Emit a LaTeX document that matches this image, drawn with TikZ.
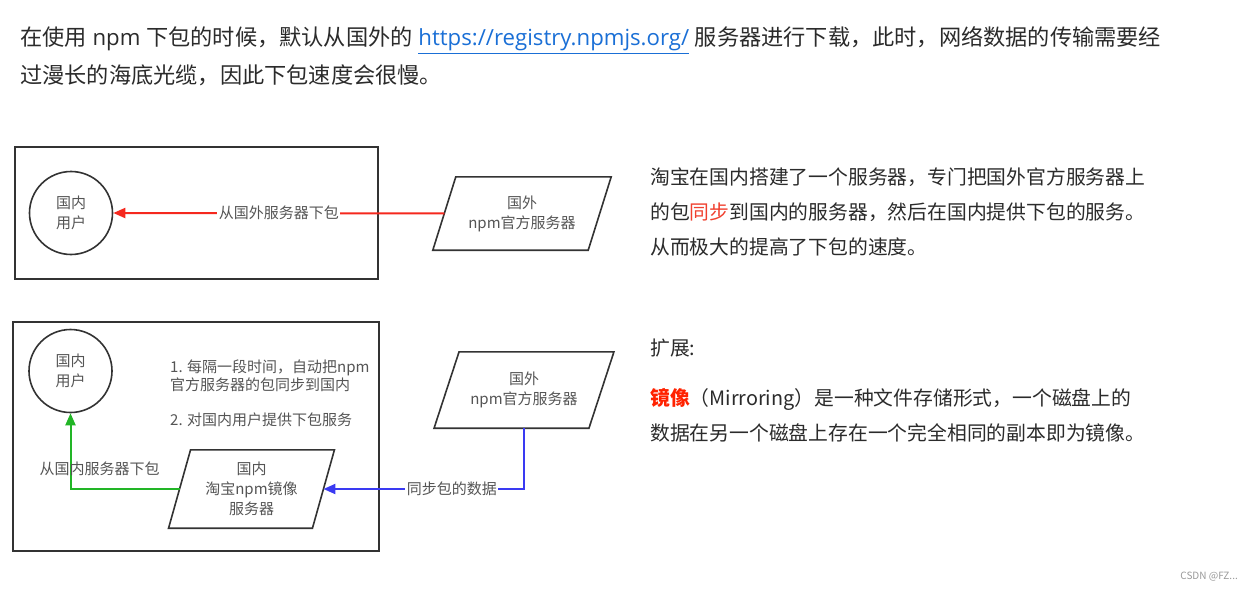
\documentclass[tikz,border=0pt]{standalone}
\usepackage{fontspec}
\setmainfont{Noto Sans CJK SC}
\newfontfamily\latfont{Open Sans}
\usetikzlibrary{arrows.meta,calc}
\definecolor{txt}{HTML}{2B2B2B}
\definecolor{dtext}{HTML}{555555}
\definecolor{frameC}{HTML}{333333}
\definecolor{link}{HTML}{1A6FD6}
\definecolor{redtxt}{HTML}{F0402E}
\definecolor{mirror}{HTML}{FF2200}
\definecolor{rflow}{HTML}{F5281E}
\definecolor{gflow}{HTML}{22B526}
\definecolor{bflow}{HTML}{3A3AF2}
\definecolor{mark}{HTML}{999999}
\newcommand\topfont{\fontsize{22.2}{26}\selectfont}
\newcommand\sidefont{\fontsize{19.8}{24}\selectfont}
\newcommand\diagfont{\fontsize{15}{20}\selectfont}
\newcommand\pgram[2]{\draw[pgline] ($(#1.south west)+(-#2,0)$) -- ($(#1.north west)+(#2,0)$) -- ($(#1.north east)+(#2,0)$) -- ($(#1.south east)+(-#2,0)$) -- cycle;}
\begin{document}
\begin{tikzpicture}[x=1pt,y=-1pt,
  frame/.style={draw=frameC, line width=2pt},
  user/.style={circle, draw=frameC, line width=1.6pt, minimum size=83pt, inner sep=0pt, align=center, font=\diagfont, text=dtext},
  pgbox/.style={inner sep=0pt, align=center, font=\diagfont, text=dtext},
  pgline/.style={draw=frameC, line width=1.6pt, line join=miter},
  flow/.style={line width=2pt, -{Triangle[length=12pt,width=10pt]}},
  lbl/.style={font=\diagfont, text=dtext, fill=white, inner sep=1.5pt},
  para/.style={anchor=base west, inner sep=0pt, text=txt},
]
\useasboundingbox (0,0) rectangle (1252,591);
\fill[white] (0,0) rectangle (1252,591);

% intro text
\node[para, font=\topfont] (intro1) at (20,46) {在使用{\latfont\ npm }下包的时候，默认从国外的{\latfont\ \textcolor{link}{\underline{https://registry.npmjs.org/}} }服务器进行下载，此时，网络数据的传输需要经};
\node[para, font=\topfont] (intro2) at (20,84) {过漫长的海底光缆，因此下包速度会很慢。};

% first diagram
\draw[frame] (15,147) rectangle (378,279);
\node[user] (u1) at (71,213) {国内\\用户};
\node[pgbox, minimum width=155pt, minimum height=73pt] (p1) at (522,213.5) {国外\\npm官方服务器};
\pgram{p1}{11.5}
\draw[flow, rflow] (p1.west) -- node[lbl]{从国外服务器下包} (u1.east);

% second diagram
\draw[frame] (13,322) rectangle (379,551);
\node[user] (u2) at (70.5,371) {国内\\用户};
\node[para, font=\diagfont, text=dtext] (s1) at (170,372.6) {1. 每隔一段时间，自动把npm};
\node[para, font=\diagfont, text=dtext] (s2) at (170,390.6) {官方服务器的包同步到国内};
\node[para, font=\diagfont, text=dtext] (s3) at (170,425.6) {2. 对国内用户提供下包服务};
\node[pgbox, minimum width=143.5pt, minimum height=78pt] (p2) at (251.5,489) {国内\\淘宝npm镜像\\服务器};
\pgram{p2}{11}
\node[pgbox, minimum width=154.5pt, minimum height=76pt] (p3) at (524,390) {国外\\npm官方服务器};
\pgram{p3}{12.5}
\draw[flow, gflow] (p2.west) -| node[pos=0.636, xshift=29pt, font=\diagfont, text=dtext, inner sep=0pt]{从国内服务器下包} (u2.south);
\draw[flow, bflow] (p3.south) |- node[lbl, pos=0.68]{同步包的数据} (p2.east);

% side text
\node[para, font=\sidefont] (r1) at (650,184) {淘宝在国内搭建了一个服务器，专门把国外官方服务器上};
\node[para, font=\sidefont] (r2) at (650,219) {的包\textcolor{redtxt}{同步}到国内的服务器，然后在国内提供下包的服务。};
\node[para, font=\sidefont] (r3) at (650,254) {从而极大的提高了下包的速度。};
\node[para, font=\sidefont] (e1) at (650,355) {扩展:};
\node[para, font=\sidefont] (e2) at (650,405) {\textcolor{mirror}{\textbf{镜像}}（Mirroring）是一种文件存储形式，一个磁盘上的};
\node[para, font=\sidefont] (e3) at (650,440) {数据在另一个磁盘上存在一个完全相同的副本即为镜像。};

\node[font=\fontsize{10}{12}\selectfont, text=mark, anchor=east, inner sep=0pt] (wm) at (1238,577) {CSDN @FZ...};
\end{tikzpicture}
\end{document}
